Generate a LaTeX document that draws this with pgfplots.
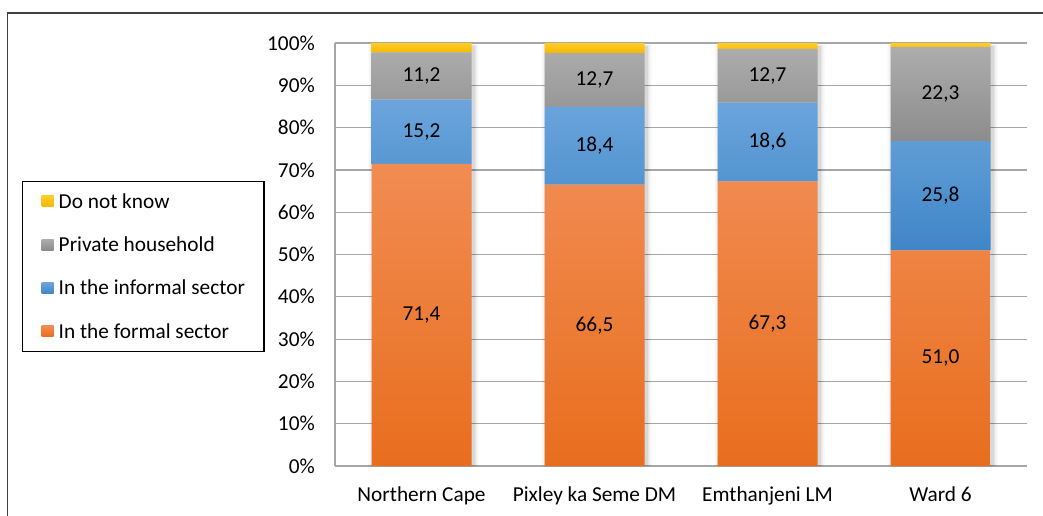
\documentclass[border=0pt]{standalone}
\usepackage{pgfplots}
\pgfplotsset{compat=1.18}
\usepackage{fontspec}
\setmainfont{Carlito}
\definecolor{orT}{RGB}{241,140,82}
\definecolor{orB}{RGB}{232,110,30}
\definecolor{blT}{RGB}{108,165,220}
\definecolor{blB}{RGB}{63,134,200}
\definecolor{grT}{RGB}{173,173,173}
\definecolor{grB}{RGB}{140,140,140}
\definecolor{yeT}{RGB}{255,204,40}
\definecolor{yeB}{RGB}{245,184,0}
\definecolor{gridc}{RGB}{166,166,166}
\newcommand{\cf}{\fontsize{21.3pt}{25pt}\selectfont}
\begin{document}
\begin{tikzpicture}
\path[use as bounding box] (0pt,0pt) rectangle (1043pt,515pt);
\draw[line width=1.5pt, black!75] (7.5pt,-2pt) -- (7.5pt,502pt) -- (1045pt,502pt);
\coordinate (O) at (335pt,49pt);
\pgfplotsset{common/.style={at={(O)}, anchor=south west, width=692pt, height=423pt,
  scale only axis, xmin=-0.5, xmax=3.5}}
% grid and axes
\begin{axis}[common, ymin=0, ymax=100,
  axis x line*=bottom, axis y line*=left,
  axis line style={draw=gridc, line width=1.2pt, -},
  ymajorgrids, grid style={draw=gridc, line width=1.2pt},
  xtick={0,1,2,3}, xticklabels={Northern Cape, Pixley ka Seme DM, Emthanjeni LM, Ward 6},
  ytick={0,10,20,30,40,50,60,70,80,90,100},
  yticklabels={0\%,10\%,20\%,30\%,40\%,50\%,60\%,70\%,80\%,90\%,100\%},
  major tick length=0pt, tick style={draw=none},
  xticklabel style={anchor=base, yshift=-35pt, inner sep=0pt},
  yticklabel style={anchor=east, inner sep=0pt, xshift=-20pt},
  tick label style={font=\cf, text=black}]
\addplot[draw=none] coordinates {(0,0)};
\end{axis}
% soft shadows
\begin{axis}[common, hide axis, ymin=0.9, ymax=100.9, clip=false, ybar]
\addplot[draw=none, fill=black, fill opacity=0.03, bar width=110pt, bar shift=2pt] coordinates {(0,100.6) (1,100.6) (2,100.6) (3,100.6)};
\addplot[draw=none, fill=black, fill opacity=0.05, bar width=106pt, bar shift=2pt] coordinates {(0,100.4) (1,100.4) (2,100.4) (3,100.4)};
\addplot[draw=none, fill=black, fill opacity=0.08, bar width=103pt, bar shift=2pt] coordinates {(0,100.2) (1,100.2) (2,100.2) (3,100.2)};
\end{axis}
% bars
\begin{axis}[common, ymin=0, ymax=100, hide axis, ybar stacked, bar width=100pt,
  reverse legend, legend cell align=left,
  legend image code/.code={\path[#1, draw=none] (0pt,-5pt) rectangle (12pt,6pt);},
  legend style={at={(-0.45231,0.67376)}, anchor=north west, draw=black, line width=1.5pt,
    inner xsep=19pt, inner ysep=11.5pt, row sep=26.3pt, font=\cf,
    nodes={inner sep=0pt, text height=15pt, text depth=2pt},
    /tikz/every odd column/.append style={column sep=5pt}},
]
\addplot[draw=none, top color=orT, bottom color=orB] coordinates {(0,71.4) (1,66.5) (2,67.3) (3,51.0)};
\addplot[draw=none, top color=blT, bottom color=blB] coordinates {(0,15.2) (1,18.4) (2,18.6) (3,25.8)};
\addplot[draw=none, top color=grT, bottom color=grB] coordinates {(0,11.2) (1,12.7) (2,12.7) (3,22.3)};
\addplot[draw=none, top color=yeT, bottom color=yeB] coordinates {(0,2.2) (1,2.4) (2,1.4) (3,0.9)};
\legend{In the formal sector, In the informal sector, Private household, Do not know}
\end{axis}
% data labels
\begin{axis}[common, ymin=0, ymax=100, hide axis]
\addplot[draw=none, mark=none, nodes near coords, point meta=explicit symbolic,
  every node near coord/.style={anchor=center, font=\cf, text=black, inner sep=0pt}]
  table[meta=lab] {
x y lab
0 35.7 71,4
0 79.0 15,2
0 92.2 11,2
1 33.25 66,5
1 75.7 18,4
1 91.25 12,7
2 33.65 67,3
2 76.6 18,6
2 92.25 12,7
3 25.5 51,0
3 63.9 25,8
3 87.95 22,3
};
\end{axis}
\end{tikzpicture}
\end{document}
